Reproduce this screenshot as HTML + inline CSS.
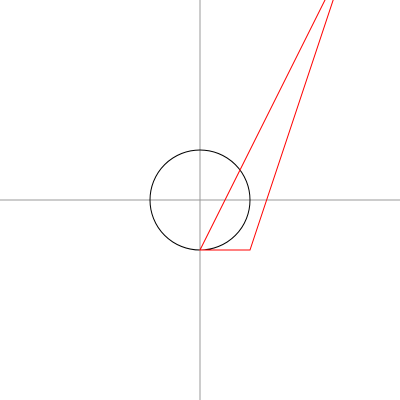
<!DOCTYPE html>
<html><head><meta charset="utf-8"><style>html,body{margin:0;padding:0;background:#fff;width:400px;height:400px;overflow:hidden}</style></head>
<body>
<svg id="chart" width="400" height="400" viewBox="0 0 400 400" xmlns="http://www.w3.org/2000/svg"></svg>
<script>
const polyX = [0, 1, 2.73, 2.6];
const polyY = [-1, -1, 4.2, 4.2];
const circleR = [1];
const scale = 50, cx = 200, cy = 200;
function sx(v){return cx + v*scale;}
function sy(v){return cy - v*scale;}
const svg = document.getElementById('chart');
const NS = 'http://www.w3.org/2000/svg';
function mk(tag, attrs){const e=document.createElementNS(NS,tag);for(const k in attrs)e.setAttribute(k,attrs[k]);svg.appendChild(e);return e;}
const xa = mk('line',{x1:0,y1:cy,x2:400,y2:cy,stroke:'#999','stroke-width':1});


const ya = mk('line',{x1:cx,y1:0,x2:cx,y2:400,stroke:'#999','stroke-width':1});


const c = mk('circle',{cx:sx(0),cy:sy(0),r:circleR[0]*scale,fill:'none',stroke:'#000','stroke-width':1});


const pts = polyX.map((x,i)=>sx(x)+','+sy(polyY[i])).join(' ');
const p = mk('polygon',{points:pts,fill:'none',stroke:'red','stroke-width':1});


</script>
</body></html>
